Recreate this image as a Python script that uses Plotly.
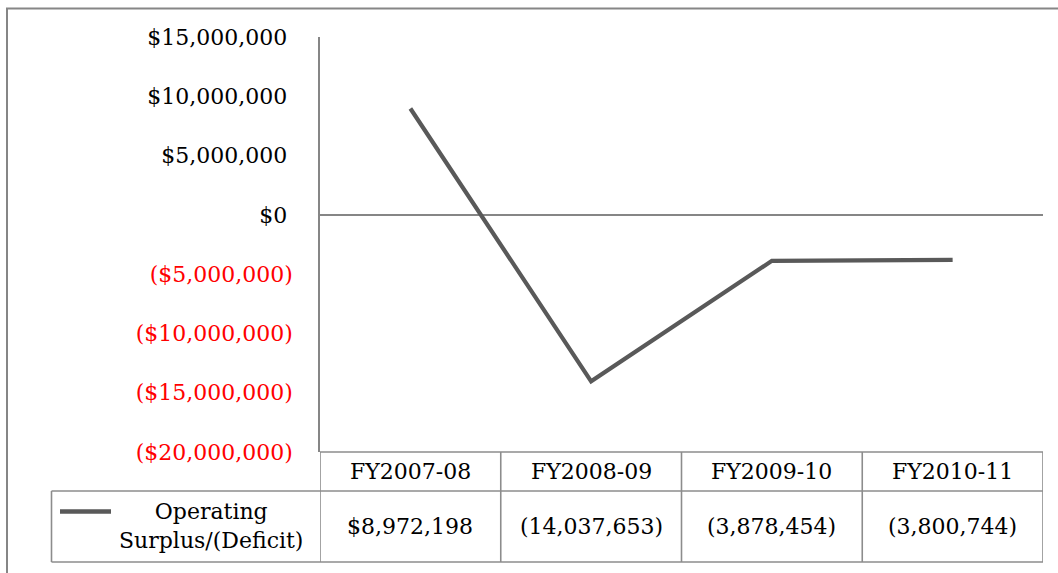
import plotly.graph_objects as go

# ---- data ----
categories = ["FY2007-08", "FY2008-09", "FY2009-10", "FY2010-11"]
series_name = "Operating<br>Surplus/(Deficit)"
values = [8972198, -14037653, -3878454, -3800744]
value_labels = ["$8,972,198", "(14,037,653)", "(3,878,454)", "(3,800,744)"]
y_tick_vals = [15000000, 10000000, 5000000, 0, -5000000, -10000000, -15000000, -20000000]
y_tick_text = ["$15,000,000", "$10,000,000", "$5,000,000", "$0",
               "($5,000,000)", "($10,000,000)", "($15,000,000)", "($20,000,000)"]

# ---- layout constants (pixels) ----
W, H = 1058, 573
L, R, T, B = 320, 1043, 37, 452
FONT = "DejaVu Serif"
FS = 22
LINE_COLOR = "#595959"
GRID_COLOR = "#8c8c8c"


def px_x(xp):
    return (xp - L) / (R - L)


def px_y(yp):
    return (B - yp) / (B - T)


def fmt_tick(v, t):
    if v < 0:
        return f"<span style='color:#ff0000'>{t}</span>"
    return t + "\u2005"


fig = go.Figure()
fig.add_trace(go.Scatter(
    x=list(range(len(categories))), y=values, mode="lines",
    line=dict(color=LINE_COLOR, width=4.2), showlegend=False,
    name=series_name.replace("<br>", " "), hoverinfo="skip"))

shapes = []
row1_bot = 491
row2_bot = 562
# header row top line
shapes.append(dict(type="line", xref="paper", yref="paper",
                   x0=0, x1=1, y0=px_y(B), y1=px_y(B),
                   line=dict(color=GRID_COLOR, width=1.6)))
# row separators
for yy in (row1_bot, row2_bot):
    shapes.append(dict(type="line", xref="paper", yref="paper",
                       x0=px_x(51.5), x1=1, y0=px_y(yy), y1=px_y(yy),
                       line=dict(color=GRID_COLOR, width=1.6)))
# column separators via the category axis
for i in range(len(categories) + 1):
    shapes.append(dict(type="line", xref="x", yref="paper",
                       x0=i - 0.5, x1=i - 0.5, y0=px_y(B), y1=px_y(row2_bot),
                       line=dict(color=GRID_COLOR, width=1.6)))
# legend cell left border
shapes.append(dict(type="line", xref="paper", yref="paper",
                   x0=px_x(51.5), x1=px_x(51.5), y0=px_y(row1_bot), y1=px_y(row2_bot),
                   line=dict(color=GRID_COLOR, width=1.6)))
# legend key line
shapes.append(dict(type="line", xref="paper", yref="paper",
                   x0=px_x(60), x1=px_x(111), y0=px_y(511.5), y1=px_y(511.5),
                   line=dict(color=LINE_COLOR, width=4.5)))
# outer chart border
shapes.append(dict(type="rect", xref="paper", yref="paper",
                   x0=px_x(7), x1=px_x(1075), y0=px_y(8.5), y1=px_y(590),
                   line=dict(color="#868686", width=2), layer="below"))

annotations = []
for i, c in enumerate(categories):
    annotations.append(dict(xref="x", yref="paper", x=i, y=px_y((B + row1_bot) / 2),
                            text=c, showarrow=False, xanchor="center", yanchor="middle",
                            font=dict(family=FONT, size=FS, color="#000000")))
    annotations.append(dict(xref="x", yref="paper", x=i, y=px_y((row1_bot + row2_bot) / 2),
                            text=value_labels[i], showarrow=False, xanchor="center",
                            yanchor="middle",
                            font=dict(family=FONT, size=FS, color="#000000")))
annotations.append(dict(xref="paper", yref="paper", x=px_x(211), y=px_y(526),
                        text=series_name, showarrow=False, xanchor="center",
                        yanchor="middle", align="center",
                        font=dict(family=FONT, size=FS, color="#000000")))

fig.update_layout(
    width=W, height=H,
    margin=dict(l=L, r=W - R, t=T, b=H - B, pad=0),
    paper_bgcolor="white", plot_bgcolor="white",
    xaxis=dict(range=[-0.5, len(categories) - 0.5], showticklabels=False,
               showgrid=False, zeroline=False, showline=False, ticks="",
               fixedrange=True),
    yaxis=dict(range=[-20000000, 15000000], tickvals=y_tick_vals,
               ticktext=[fmt_tick(v, t) for v, t in zip(y_tick_vals, y_tick_text)],
               showgrid=False, zeroline=True, zerolinecolor="#868686", zerolinewidth=1.6,
               showline=True, linecolor="#868686", linewidth=1.6, ticks="",
               ticklabelstandoff=21,
               tickfont=dict(family=FONT, size=FS, color="#000000"), fixedrange=True),
    shapes=shapes, annotations=annotations, showlegend=False,
)

fig.write_html("out.html", config={"displayModeBar": False},
               post_script="document.body.style.margin='0';document.body.style.overflow='hidden';")
